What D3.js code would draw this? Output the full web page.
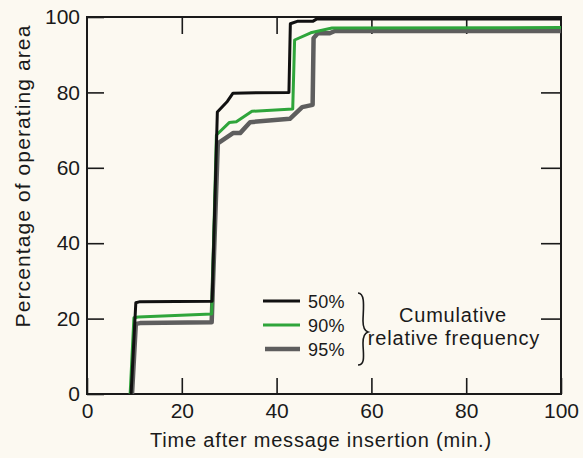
<!DOCTYPE html>
<html>
<head>
<meta charset="utf-8">
<script src="https://cdn.jsdelivr.net/npm/d3@7"></script>
<style>
  body { margin: 0; background: #fcf9f1; }
  text { font-family: "Liberation Sans", Arial, sans-serif; fill: #1a1a1a; }
</style>
</head>
<body>
<div id="chart-area"></div>
<script>
// values: [time (min.), percentage]
let series50 = [[9.3, 0], [10.3, 24.2], [11.2, 24.5], [26.4, 24.6], [27.5, 74.8], [29.6, 77.6], [30.8, 79.8], [42.6, 80], [42.9, 98.2], [44.5, 98.9], [47.7, 98.9], [48.5, 99.5], [100, 99.5]]
let series90 = [[9.1, 0], [9.9, 20.2], [10.8, 20.4], [26.3, 21.2], [27.3, 68.7], [30, 72], [31.5, 72.2], [34.8, 75], [43.4, 75.6], [43.8, 93.9], [47.2, 95.8], [51.7, 97.1], [100, 97.2]]
let series95 = [[9.5, 0], [10.3, 18.6], [11.2, 18.8], [26.3, 19], [27.6, 66.5], [30.8, 69.2], [32.3, 69.2], [34.4, 72.1], [42.8, 73], [45.4, 76.1], [47.6, 76.7], [47.8, 94.4], [48.7, 95.7], [51.2, 95.7], [52.3, 96.3], [100, 96.3]]

let seriesNames = ["50%", "90%", "95%"]
let seriesColors = ["#111111", "#2fa53b", "#5e5e5e"]
let seriesWidths = [3, 3, 4.5]

let xTicks = [0, 20, 40, 60, 80, 100]
let yTicks = [0, 20, 40, 60, 80, 100]

let margin = {top: 17, right: 22, bottom: 64, left: 87}
let canvasWidth = 583 - margin.left - margin.right
let canvasHeight = 458 - margin.top - margin.bottom

let svg = d3.select("#chart-area").append("svg")
  .attr("width", 583)
  .attr("height", 458)

let group = svg.append("g")
  .attr("transform", "translate(" + margin.left + ", " + margin.top + ")")

let x = d3.scaleLinear().domain([0, 100]).range([0, canvasWidth])
let y = d3.scaleLinear().domain([0, 100]).range([canvasHeight, 0])

// bottom axis with labels, ticks pointing inward
group.append("g")
  .attr("class", "x-axis")
  .attr("transform", "translate(0, " + canvasHeight + ")")
  .call(d3.axisBottom(x).tickValues(xTicks).tickSize(-16).tickPadding(6))

group.append("g")
  .attr("class", "x-axis-top")
  .call(d3.axisTop(x).tickValues(xTicks.slice(1, -1)).tickSize(-17).tickFormat(""))

group.append("g")
  .attr("class", "y-axis")
  .call(d3.axisLeft(y).tickValues(yTicks).tickSize(-17).tickPadding(7))

group.append("g")
  .attr("class", "y-axis-right")
  .attr("transform", "translate(" + canvasWidth + ", 0)")
  .call(d3.axisRight(y).tickValues(yTicks.slice(1, -1)).tickSize(-20).tickFormat(""))

group.selectAll(".domain").remove()
group.selectAll(".tick line").attr("stroke", "#1a1a1a").attr("stroke-width", 1.6)
group.selectAll(".tick text").attr("font-size", "21px").attr("fill", "#1a1a1a")
group.select(".x-axis").selectAll(".tick text").attr("dy", "0.85em")

// frame
group.append("rect")
  .attr("width", canvasWidth)
  .attr("height", canvasHeight)
  .attr("fill", "none")
  .attr("stroke", "#1a1a1a")
  .attr("stroke-width", 2)

let line = d3.line()
  .x(d => x(d[0]))
  .y(d => y(d[1]))

let allSeries = [series95, series90, series50]
let order = [2, 1, 0]
allSeries.forEach((s, i) => {
  let k = order[i]
  group.append("path")
    .datum(s)
    .attr("fill", "none")
    .attr("stroke", seriesColors[k])
    .attr("stroke-width", seriesWidths[k])
    .attr("stroke-linejoin", "round")
    .attr("d", line)
})

// legend
let legend = svg.append("g").attr("transform", "translate(263, 301)")
seriesNames.forEach((name, i) => {
  legend.append("line")
    .attr("x1", i == 2 ? 2 : 0).attr("x2", 37)
    .attr("y1", i * 24).attr("y2", i * 24)
    .attr("stroke", seriesColors[i])
    .attr("stroke-width", seriesWidths[i])
  legend.append("text")
    .attr("x", 45).attr("y", i * 24 + 7)
    .attr("font-size", "18px")
    .attr("letter-spacing", "0.3px")
    .text(name)
})
legend.append("path")
  .attr("d", "M95,-8 C103,-8 100,10 100,20 C100,28 102,30 105,31 C102,32 100,34 100,42 C100,52 103,64 95,64")
  .attr("fill", "none")
  .attr("stroke", "#1a1a1a")
  .attr("stroke-width", 1.6)
legend.append("text")
  .attr("x", 190).attr("y", 21)
  .attr("text-anchor", "middle")
  .attr("font-size", "20px")
  .attr("letter-spacing", "0.8px")
  .text("Cumulative")
legend.append("text")
  .attr("x", 191).attr("y", 44)
  .attr("text-anchor", "middle")
  .attr("font-size", "20px")
  .attr("letter-spacing", "0.8px")
  .text("relative frequency")

// axis labels
svg.append("text")
  .attr("x", 321)
  .attr("y", 447)
  .attr("text-anchor", "middle")
  .attr("font-size", "20px")
  .attr("letter-spacing", "0.8px")
  .text("Time after message insertion (min.)")

svg.append("text")
  .attr("x", -176)
  .attr("y", 30)
  .attr("text-anchor", "middle")
  .attr("font-size", "21px")
  .attr("letter-spacing", "1.1px")
  .attr("transform", "rotate(-90)")
  .text("Percentage of operating area")
</script>
</body>
</html>
